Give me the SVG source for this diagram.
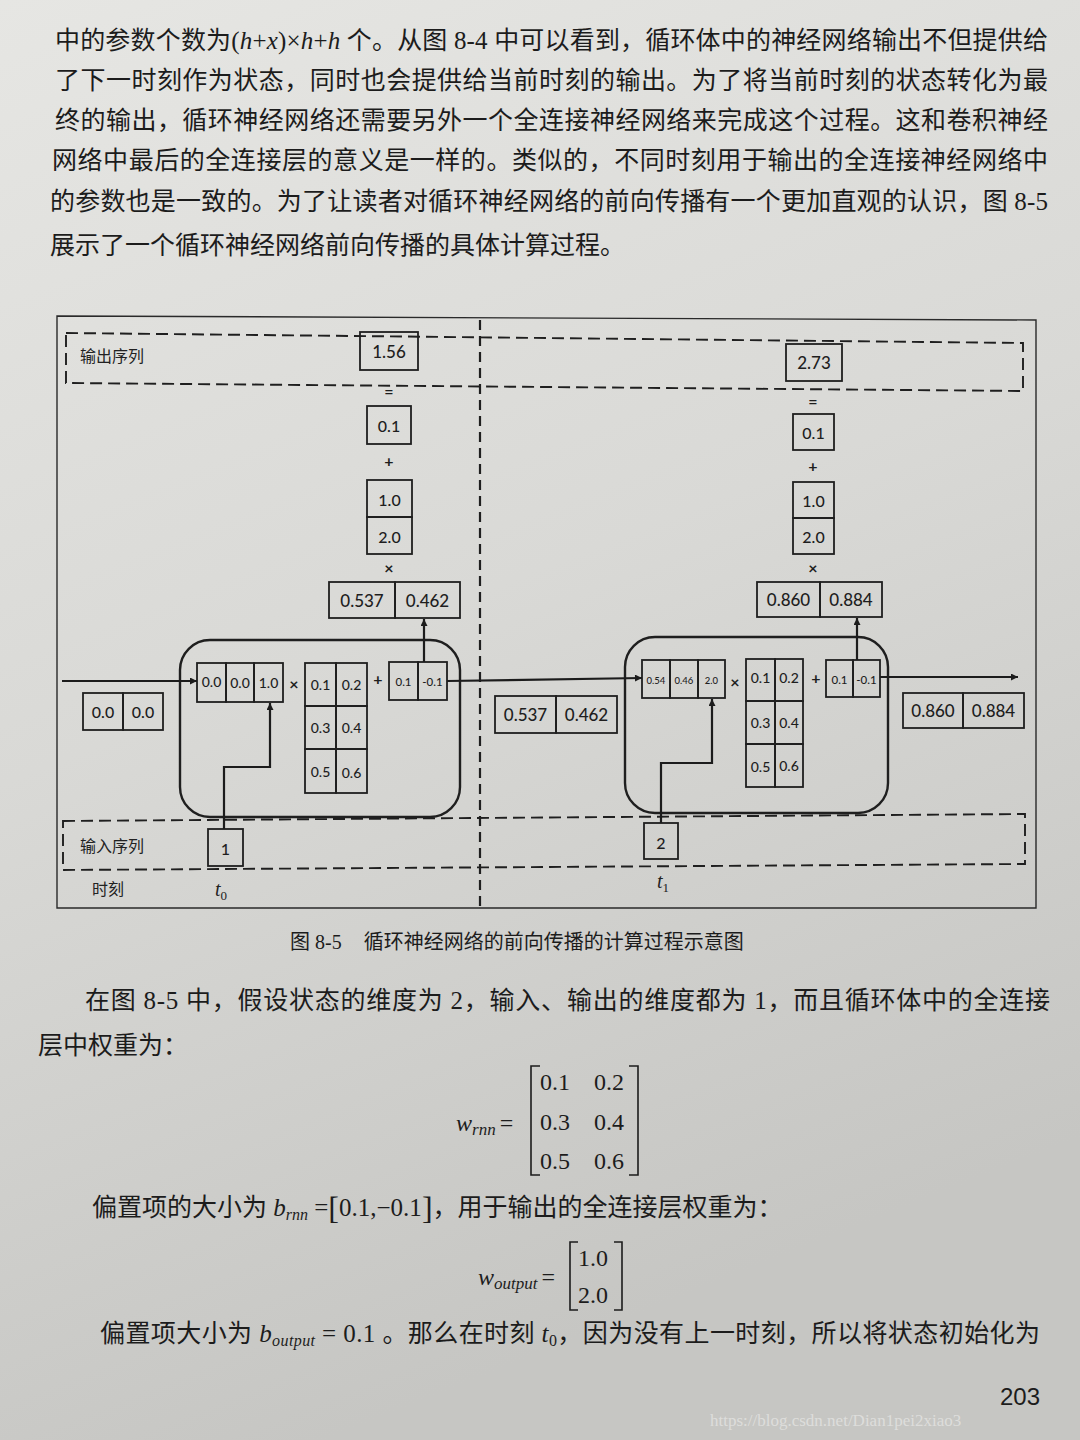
<svg xmlns="http://www.w3.org/2000/svg" width="1080" height="1440" viewBox="0 0 1080 1440">
<defs>
  <linearGradient id="paper" x1="0" y1="0" x2="0.3" y2="1">
    <stop offset="0" stop-color="#e6e6e3"/>
    <stop offset="0.5" stop-color="#d9d9d6"/>
    <stop offset="1" stop-color="#c6c6c3"/>
  </linearGradient>
  <marker id="ah" viewBox="0 0 10 10" refX="10" refY="5" markerWidth="9" markerHeight="7" markerUnits="userSpaceOnUse" orient="auto">
    <path d="M0,0 L10,5 L0,10 z" fill="#1c1c1c"/>
  </marker>
  <style>
    .box{fill:none;stroke:#1f1f1f;stroke-width:1.8}
    .cellbox{fill:none;stroke:#1f1f1f;stroke-width:2.4}
    .dash{fill:none;stroke:#1f1f1f;stroke-width:1.9;stroke-dasharray:12 6}
    .vdash{fill:none;stroke:#1f1f1f;stroke-width:2.2;stroke-dasharray:10 6}
    .frame{fill:none;stroke:#2a2a2a;stroke-width:1.4}
    .conn{fill:none;stroke:#1c1c1c;stroke-width:2.2}
    .n{font-family:Lato,"Liberation Sans",sans-serif;fill:#1e1e1e;text-anchor:middle;dominant-baseline:central;font-size:16px;font-weight:500}
    .n16{font-size:17px}
    .n13{font-size:14px}
    .n11{font-size:11.5px}
    .n9{font-size:9.5px}
    .op{font-family:Lato,"Liberation Sans",sans-serif;fill:#1e1e1e;text-anchor:middle;dominant-baseline:central;font-size:16px;font-weight:700}
    .lab{font-family:"Noto Sans CJK SC","Liberation Sans",sans-serif;fill:#222;font-size:16px;dominant-baseline:central}
    .tm{font-family:"Liberation Serif",serif;font-style:italic;fill:#222;font-size:20px}
    .body{font-family:"Liberation Serif","Noto Sans CJK SC",serif;fill:#1c1c1c;font-size:25px}
    .cap{font-family:"Liberation Serif","Noto Sans CJK SC",serif;fill:#1c1c1c;font-size:20px}
    .math{font-family:"Liberation Serif",serif;fill:#1c1c1c;font-size:24px}
    .it{font-style:italic}
  </style>
</defs>

<rect x="0" y="0" width="1080" height="1440" fill="url(#paper)"/>

<!-- top paragraph -->
<g id="para-top">
  <text class="body" x="55" y="49" textLength="993" lengthAdjust="spacing">中的参数个数为(<tspan class="it">h</tspan>+<tspan class="it">x</tspan>)×<tspan class="it">h</tspan>+<tspan class="it">h</tspan> 个。从图 8-4 中可以看到，循环体中的神经网络输出不但提供给</text>
  <text class="body" x="55" y="89" textLength="993" lengthAdjust="spacing">了下一时刻作为状态，同时也会提供给当前时刻的输出。为了将当前时刻的状态转化为最</text>
  <text class="body" x="55" y="129" textLength="993" lengthAdjust="spacing">终的输出，循环神经网络还需要另外一个全连接神经网络来完成这个过程。这和卷积神经</text>
  <text class="body" x="52" y="169" textLength="996" lengthAdjust="spacing">网络中最后的全连接层的意义是一样的。类似的，不同时刻用于输出的全连接神经网络中</text>
  <text class="body" x="50" y="210" textLength="998" lengthAdjust="spacing">的参数也是一致的。为了让读者对循环神经网络的前向传播有一个更加直观的认识，图 8-5</text>
  <text class="body" x="50" y="254">展示了一个循环神经网络前向传播的具体计算过程。</text>
</g>

<!-- figure frame -->
<g id="frame">
  <path class="frame" d="M57,316 L1036,320 L1036,908 L57,908 Z"/>
  <line class="vdash" x1="480" y1="320" x2="480" y2="906"/>
</g>

<g id="output-seq">
  <path class="dash" d="M66,333 L1023,343 L1023,391 L66,383 Z"/>
  <text class="lab" x="80" y="355">输出序列</text>
</g>

<g id="input-seq">
  <path class="dash" d="M63,821 L1025,814 L1025,864 L63,870 Z"/>
  <text class="lab" x="80" y="845">输入序列</text>
</g>

<g id="time-labels">
  <text class="lab" x="92" y="888">时刻</text>
  <text class="tm" x="215" y="896">t<tspan font-size="13px" dy="4" font-style="normal">0</tspan></text>
  <text class="tm" x="657" y="888">t<tspan font-size="13px" dy="4" font-style="normal">1</tspan></text>
</g>

<!-- t0 output computation -->
<g id="y0">
  <rect class="box" x="360" y="332" width="58" height="38"/>
  <text class="n n16" x="389" y="351">1.56</text>
</g>
<g id="op-eq0"><text class="op" x="389" y="390">=</text></g>
<g id="bout0">
  <rect class="box" x="367" y="406" width="44" height="38"/>
  <text class="n" x="389" y="425">0.1</text>
</g>
<g id="op-plus0"><text class="op" x="389" y="460">+</text></g>
<g id="wout0">
  <rect class="box" x="367" y="480" width="45" height="37"/>
  <rect class="box" x="367" y="517" width="45" height="37"/>
  <text class="n" x="389.5" y="499">1.0</text>
  <text class="n" x="389.5" y="536">2.0</text>
</g>
<g id="op-mul0"><text class="op" x="389" y="567">×</text></g>
<g id="hout0">
  <rect class="box" x="329" y="582" width="66" height="36"/>
  <rect class="box" x="395" y="582" width="65" height="36"/>
  <text class="n n16" x="362" y="600">0.537</text>
  <text class="n n16" x="427.5" y="600">0.462</text>
</g>

<!-- t1 output computation -->
<g id="y1">
  <rect class="box" x="786" y="344" width="56" height="37"/>
  <text class="n n16" x="814" y="362.5">2.73</text>
</g>
<g id="op-eq1"><text class="op" x="813" y="400">=</text></g>
<g id="bout1">
  <rect class="box" x="793" y="414" width="41" height="36"/>
  <text class="n" x="813.5" y="432">0.1</text>
</g>
<g id="op-plus1"><text class="op" x="813" y="465">+</text></g>
<g id="wout1">
  <rect class="box" x="793" y="482" width="41" height="36"/>
  <rect class="box" x="793" y="518" width="41" height="36"/>
  <text class="n" x="813.5" y="500">1.0</text>
  <text class="n" x="813.5" y="536">2.0</text>
</g>
<g id="op-mul1"><text class="op" x="813" y="567">×</text></g>
<g id="hout1">
  <rect class="box" x="757" y="582" width="63" height="35"/>
  <rect class="box" x="820" y="582" width="62" height="35"/>
  <text class="n n16" x="788.5" y="599.5">0.860</text>
  <text class="n n16" x="851" y="599.5">0.884</text>
</g>

<!-- states between cells -->
<g id="h-init">
  <rect class="box" x="83" y="693" width="40" height="37"/>
  <rect class="box" x="123" y="693" width="40" height="37"/>
  <text class="n" x="103" y="711.5">0.0</text>
  <text class="n" x="143" y="711.5">0.0</text>
</g>
<g id="h-1">
  <rect class="box" x="495" y="696" width="61" height="37"/>
  <rect class="box" x="556" y="696" width="61" height="37"/>
  <text class="n n16" x="525.5" y="714.5">0.537</text>
  <text class="n n16" x="586.5" y="714.5">0.462</text>
</g>
<g id="h-2">
  <rect class="box" x="903" y="693" width="60" height="35"/>
  <rect class="box" x="963" y="693" width="61" height="35"/>
  <text class="n n16" x="933" y="710.5">0.860</text>
  <text class="n n16" x="993.5" y="710.5">0.884</text>
</g>

<!-- RNN cell t0 -->
<g id="cell0">
  <rect class="cellbox" x="180" y="640" width="280" height="177" rx="30"/>
  <rect class="box" x="197" y="663" width="29" height="39"/>
  <rect class="box" x="226" y="663" width="28" height="39"/>
  <rect class="box" x="254" y="663" width="29" height="39"/>
  <text class="n n13" x="211.5" y="681">0.0</text>
  <text class="n n13" x="240" y="682">0.0</text>
  <text class="n n13" x="268.5" y="682">1.0</text>
  <text class="op" x="294" y="683">×</text>
  <rect class="box" x="305" y="663" width="31" height="43"/>
  <rect class="box" x="336" y="663" width="31" height="43"/>
  <rect class="box" x="305" y="706" width="31" height="43"/>
  <rect class="box" x="336" y="706" width="31" height="43"/>
  <rect class="box" x="305" y="749" width="31" height="44"/>
  <rect class="box" x="336" y="749" width="31" height="44"/>
  <text class="n n13" x="320.5" y="684">0.1</text>
  <text class="n n13" x="351.5" y="684">0.2</text>
  <text class="n n13" x="320.5" y="727">0.3</text>
  <text class="n n13" x="351.5" y="727">0.4</text>
  <text class="n n13" x="320.5" y="771">0.5</text>
  <text class="n n13" x="351.5" y="772">0.6</text>
  <text class="op" x="378" y="678">+</text>
  <rect class="box" x="389" y="662" width="29" height="38"/>
  <rect class="box" x="418" y="662" width="29" height="38"/>
  <text class="n n11" x="403.5" y="681">0.1</text>
  <text class="n n11" x="432.5" y="681">-0.1</text>
</g>

<!-- RNN cell t1 -->
<g id="cell1">
  <rect class="cellbox" x="625" y="637" width="263" height="176" rx="30"/>
  <rect class="box" x="642" y="660" width="28" height="38"/>
  <rect class="box" x="670" y="660" width="28" height="38"/>
  <rect class="box" x="698" y="660" width="27" height="38"/>
  <text class="n n9" x="656" y="680">0.54</text>
  <text class="n n9" x="684" y="680">0.46</text>
  <text class="n n9" x="711.5" y="680">2.0</text>
  <text class="op" x="735" y="681">×</text>
  <rect class="box" x="746" y="659" width="29" height="42"/>
  <rect class="box" x="775" y="659" width="28" height="42"/>
  <rect class="box" x="746" y="701" width="29" height="43"/>
  <rect class="box" x="775" y="701" width="28" height="43"/>
  <rect class="box" x="746" y="744" width="29" height="43"/>
  <rect class="box" x="775" y="744" width="28" height="43"/>
  <text class="n n13" x="760.5" y="677">0.1</text>
  <text class="n n13" x="789" y="677">0.2</text>
  <text class="n n13" x="760.5" y="722">0.3</text>
  <text class="n n13" x="789" y="722">0.4</text>
  <text class="n n13" x="760.5" y="766">0.5</text>
  <text class="n n13" x="789" y="765">0.6</text>
  <text class="op" x="816" y="677">+</text>
  <rect class="box" x="826" y="660" width="27" height="37"/>
  <rect class="box" x="853" y="660" width="27" height="37"/>
  <text class="n n11" x="839.5" y="679">0.1</text>
  <text class="n n11" x="866.5" y="679">-0.1</text>
</g>

<!-- inputs -->
<g id="x0">
  <rect class="box" x="208" y="829" width="35" height="37"/>
  <text class="n" x="225.5" y="848">1</text>
</g>
<g id="x1">
  <rect class="box" x="644" y="823" width="34" height="36"/>
  <text class="n" x="661" y="842">2</text>
</g>

<!-- connectors -->
<g id="connectors">
  <path class="conn" d="M62,681 H197" marker-end="url(#ah)"/>
  <path class="conn" d="M447,681 L642,678" marker-end="url(#ah)"/>
  <path class="conn" d="M880,677 H1018" marker-end="url(#ah)"/>
  <path class="conn" d="M424,662 V619" marker-end="url(#ah)"/>
  <path class="conn" d="M857,660 V618" marker-end="url(#ah)"/>
  <path class="conn" d="M224,829 V767 H270 V703" marker-end="url(#ah)"/>
  <path class="conn" d="M661,823 V763 H712 V699" marker-end="url(#ah)"/>
</g>

<!-- caption and following text -->
<g id="caption">
  <text class="cap" x="290" y="949">图 8-5<tspan dx="22">循环神经网络的前向传播的计算过程示意图</tspan></text>
</g>

<g id="para-bottom">
  <text class="body" x="85" y="1009" textLength="965" lengthAdjust="spacing">在图 8-5 中，假设状态的维度为 2，输入、输出的维度都为 1，而且循环体中的全连接</text>
  <text class="body" x="38" y="1054">层中权重为：</text>
</g>

<g id="eq-wrnn">
  <text class="math" x="456" y="1131"><tspan class="it">w</tspan><tspan class="it" font-size="17px" dy="4">rnn</tspan><tspan dy="-4" dx="4">=</tspan></text>
  <path d="M540,1066 H531 V1175 H540" fill="none" stroke="#1c1c1c" stroke-width="1.6"/>
  <path d="M629,1066 H638 V1175 H629" fill="none" stroke="#1c1c1c" stroke-width="1.6"/>
  <text class="math" x="540" y="1090">0.1</text>
  <text class="math" x="594" y="1090">0.2</text>
  <text class="math" x="540" y="1130">0.3</text>
  <text class="math" x="594" y="1130">0.4</text>
  <text class="math" x="540" y="1169">0.5</text>
  <text class="math" x="594" y="1169">0.6</text>
</g>

<g id="line-brnn">
  <text class="body" x="92" y="1216">偏置项的大小为 <tspan class="it">b</tspan><tspan class="it" font-size="16px" dy="4">rnn</tspan><tspan dy="-4"> =</tspan><tspan font-size="32px" dy="3">[</tspan><tspan dy="-3">0.1,−0.1</tspan><tspan font-size="32px" dy="3">]</tspan><tspan dy="-3">，用于输出的全连接层权重为：</tspan></text>
</g>

<g id="eq-wout">
  <text class="math" x="478" y="1285"><tspan class="it">w</tspan><tspan class="it" font-size="17px" dy="4">output</tspan><tspan dy="-4" dx="4">=</tspan></text>
  <path d="M578,1242 H570 V1310 H578" fill="none" stroke="#1c1c1c" stroke-width="1.6"/>
  <path d="M614,1242 H622 V1310 H614" fill="none" stroke="#1c1c1c" stroke-width="1.6"/>
  <text class="math" x="578" y="1266">1.0</text>
  <text class="math" x="578" y="1303">2.0</text>
</g>

<g id="line-bout">
  <text class="body" x="100" y="1342" textLength="940" lengthAdjust="spacing">偏置项大小为 <tspan class="it">b</tspan><tspan class="it" font-size="16px" dy="4">output</tspan><tspan dy="-4"> = 0.1 。那么在时刻 </tspan><tspan class="it">t</tspan><tspan font-size="16px" dy="4">0</tspan><tspan dy="-4">，因为没有上一时刻，所以将状态初始化为</tspan></text>
</g>

<g id="page-number">
  <text x="1040" y="1405" text-anchor="end" font-family="Liberation Sans,sans-serif" font-size="24px" fill="#1c1c1c">203</text>
</g>
<g id="watermark">
  <text x="710" y="1426" font-family="Liberation Serif,serif" font-size="17px" fill="#e4e4e2" fill-opacity="0.8">https://blog.csdn.net/Dian1pei2xiao3</text>
</g>
</svg>
